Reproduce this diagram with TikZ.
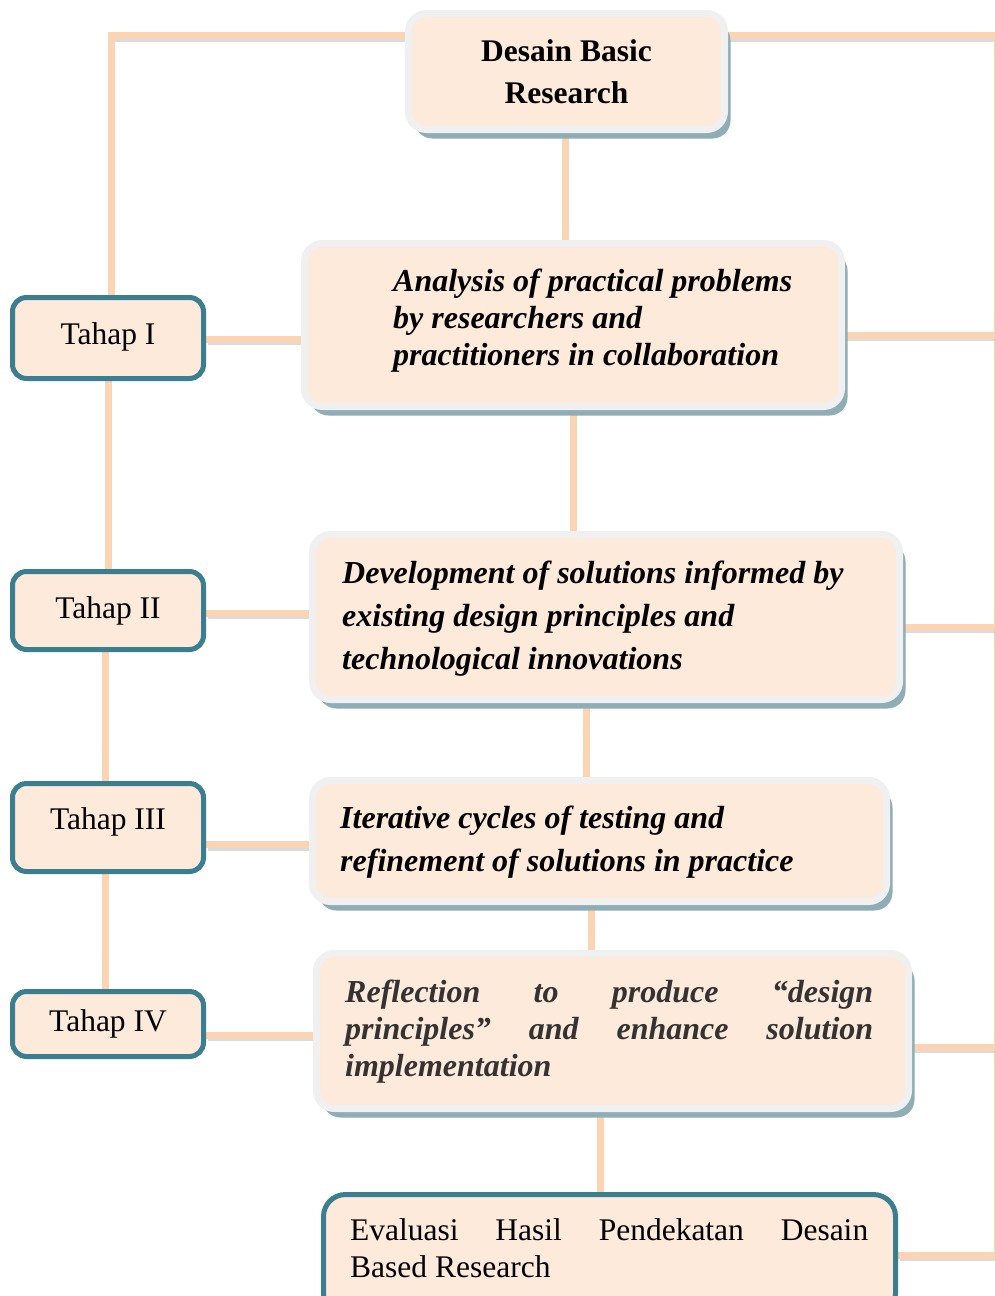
\documentclass[tikz,border=0pt]{standalone}
\usepackage{fontspec}
\setmainfont{Liberation Serif}
\usetikzlibrary{shadows,calc}
\definecolor{peach}{HTML}{FDEADA}
\definecolor{linepeach}{HTML}{FBD4B4}
\definecolor{framegray}{HTML}{F0F0F0}
\definecolor{shblue}{HTML}{8FADB6}
\definecolor{tealb}{HTML}{3A7E90}
\definecolor{linesh}{HTML}{9A9A9A}
\definecolor{txtgray}{HTML}{333333}
\pgfdeclarelayer{back}
\pgfdeclarelayer{bg}
\pgfsetlayers{back,bg,main}
\tikzset{
  mainbox/.style={draw=framegray, line width=7pt, fill=peach, rounded corners=18pt,
    drop shadow={shadow xshift=6pt, shadow yshift=-9pt, fill=shblue, opacity=1}},
  tahapbox/.style={draw=tealb, line width=5pt, fill=peach, rounded corners=14pt,
    font=\fontsize{31.5}{36}\selectfont, text=black},
  evalbox/.style={draw=tealb, line width=5pt, fill=peach, rounded corners=22pt},
  bitext/.style={anchor=west, inner sep=0pt, align=left, font=\bfseries\itshape\fontsize{32}{#1}\selectfont},
  conn/.style={draw=linepeach, line width=7pt,
    preaction={draw=linesh, opacity=0.35, line width=5pt, transform canvas={shift={(1.5pt,-3.5pt)}}}},
}
\begin{document}
\begin{tikzpicture}[x=1pt,y=-1pt]
\useasboundingbox (0,0) rectangle (994,1296);
\begin{pgfonlayer}{back}
\fill[white] (0,0) rectangle (994,1296);
\end{pgfonlayer}

% main column boxes
\node[mainbox, minimum width=316pt, minimum height=116pt, align=center,
  font=\bfseries\fontsize{31.5}{42}\selectfont] (top) at (566.5,71.5) {Desain Basic\\Research};
\node[mainbox, minimum width=537pt, minimum height=163pt] (b2) at (573,325) {};
\node[mainbox, minimum width=587pt, minimum height=165pt] (b3) at (606,617) {};
\node[mainbox, minimum width=574pt, minimum height=121pt] (b4) at (599.5,841) {};
\node[mainbox, minimum width=592pt, minimum height=155pt] (b5) at (612.5,1031) {};
\node[evalbox, minimum width=572pt, minimum height=121pt] (ev) at (609.5,1255) {};

% texts of the main boxes
\node[bitext=37pt] (b2t) at (393,321) {Analysis of practical problems\\by researchers and\\practitioners in collaboration};
\node[bitext=43pt] (b3t) at (342,619) {Development of solutions informed by\\existing design principles and\\technological innovations};
\node[bitext=43pt] (b4t) at (340,842) {Iterative cycles of testing and\\refinement of solutions in practice};
\node[bitext=37pt, text=txtgray] (b5t) at (345,1032) {\makebox[528pt][s]{Reflection to produce “design}\\\makebox[528pt][s]{principles” and enhance solution}\\implementation};
\node[anchor=west, inner sep=0pt, align=left, font=\fontsize{31.5}{37}\selectfont] (evt) at (350,1248)
  {\makebox[518pt][s]{Evaluasi Hasil Pendekatan Desain}\\Based Research};

% stage boxes
\node[tahapbox, minimum width=191pt, minimum height=81pt] (t1) at (108,338) {\raisebox{8pt}{Tahap I}};
\node[tahapbox, minimum width=191pt, minimum height=78pt] (t2) at (108,610.5) {\raisebox{4pt}{Tahap II}};
\node[tahapbox, minimum width=191pt, minimum height=88pt] (t3) at (108,827.5) {\raisebox{18pt}{Tahap III}};
\node[tahapbox, minimum width=191pt, minimum height=65pt] (t4) at (108,1024) {Tahap IV};

\coordinate (rx) at (997,0);

\begin{pgfonlayer}{bg}
% outer frame lines
\draw[conn] ([yshift=36pt]top.west) -| ([xshift=3pt]t1.north);
\draw[conn] ([yshift=36pt]top.east) -| (ev.east -| rx);
% right branches
\draw[conn] ([yshift=-10pt]b2.east) -- ([yshift=-10pt]b2.east -| rx);
\draw[conn] ([yshift=-10pt]b3.east) -- ([yshift=-10pt]b3.east -| rx);
\draw[conn] ([yshift=-16pt]b5.east) -- ([yshift=-16pt]b5.east -| rx);
\draw[conn] (ev.east) -- (ev.east -| rx);
% central column
\draw[conn] ([xshift=-1.5pt]top.south) -- ([xshift=-1.5pt]top.south |- b2.north);
\draw[conn] (b2.south) -- (b2.south |- b3.north);
\draw[conn] ([xshift=-20pt]b3.south) -- ([xshift=-20pt]b3.south |- b4.north);
\draw[conn] ([xshift=-8.5pt]b4.south) -- ([xshift=-8.5pt]b4.south |- b5.north);
\draw[conn] ([xshift=-12.5pt]b5.south) -- ([xshift=-12.5pt]b5.south |- ev.north);
% stage column
\draw[conn] (t1.south) -- (t2.north);
\draw[conn] ([xshift=-3pt]t2.south) -- ([xshift=-3pt]t3.north);
\draw[conn] ([xshift=-3pt]t3.south) -- ([xshift=-3pt]t4.north);
% stage to box
\draw[conn] ([yshift=-1pt]t1.east) -- ([yshift=-1pt]t1.east -| b2.west);
\draw[conn] ([yshift=-2.5pt]t2.east) -- ([yshift=-2.5pt]t2.east -| b3.west);
\draw[conn] ([yshift=-17pt]t3.east) -- ([yshift=-17pt]t3.east -| b4.west);
\draw[conn] ([yshift=-11pt]t4.east) -- ([yshift=-11pt]t4.east -| b5.west);
\end{pgfonlayer}
\end{tikzpicture}
\end{document}
